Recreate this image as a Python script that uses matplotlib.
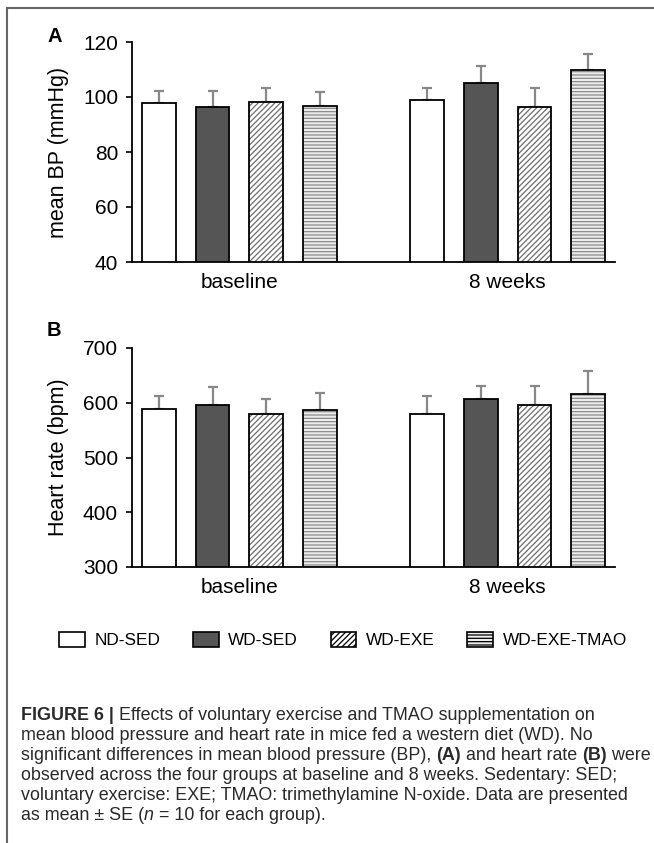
import matplotlib
matplotlib.use("Agg")
import matplotlib.pyplot as plt
from matplotlib.patches import Patch
from matplotlib.lines import Line2D
import numpy as np

plt.rcParams['font.family'] = ['Liberation Sans', 'DejaVu Sans']
plt.rcParams['hatch.linewidth'] = 0.9

groups = ['ND-SED', 'WD-SED', 'WD-EXE', 'WD-EXE-TMAO']
timepoints = ['baseline', '8 weeks']

bp_mean = [[97.7, 96.3, 98.2, 96.8], [98.8, 105.0, 96.3, 109.8]]
bp_err = [[4.5, 5.9, 4.9, 4.9], [4.6, 6.3, 6.8, 5.8]]

hr_mean = [[588, 595, 580, 586], [580, 607, 595, 616]]
hr_err = [[24, 34, 27, 32], [32, 24, 36, 42]]

faces = ['white', '#555555', 'white', '#ececec']
hatches = [None, None, '//////', '-----']
hatch_cols = ['black', 'black', '#6e6e6e', '#8a8a8a']

fig = plt.figure(figsize=(6.54, 8.43), dpi=100)
W, H = 654, 843


def px_axes(x0, y0, x1, y1):
    return fig.add_axes([x0 / W, 1 - y1 / H, (x1 - x0) / W, (y1 - y0) / H])


def draw_panel(ax, means, errs, ylim, yticks, ylabel):
    for t in range(2):
        for i in range(4):
            x = t * 5 + i
            ax.bar(x, means[t][i], width=0.63, bottom=0, color=faces[i],
                   edgecolor=hatch_cols[i], hatch=hatches[i], linewidth=0, zorder=2)
            ax.bar(x, means[t][i], width=0.63, color='none',
                   edgecolor='black', linewidth=1.3, zorder=3)
            ax.errorbar(x, means[t][i], yerr=[[0], [errs[t][i]]], fmt='none',
                        ecolor='#888888', elinewidth=1.6, capsize=3.5, capthick=1.6, zorder=1)
    ax.set_ylim(*ylim)
    ax.set_xlim(-0.5, 8.5)
    ax.set_yticks(yticks)
    ax.set_xticks([1.5, 6.5])
    ax.set_xticklabels(timepoints, fontsize=15)
    ax.tick_params(axis='x', length=0, pad=8)
    ax.tick_params(axis='y', length=4, width=1.2, labelsize=15, pad=6)
    for s in ['top', 'right']:
        ax.spines[s].set_visible(False)
    for s in ['left', 'bottom']:
        ax.spines[s].set_linewidth(1.3)
    ax.set_ylabel(ylabel, fontsize=15.5)
    ax.yaxis.set_label_coords(-0.13, 0.5)


axA = px_axes(132, 42, 615, 262)
draw_panel(axA, bp_mean, bp_err, (40, 120), [40, 60, 80, 100, 120], 'mean BP (mmHg)')
axB = px_axes(132, 348, 615, 567)
draw_panel(axB, hr_mean, hr_err, (300, 700), [300, 400, 500, 600, 700], 'Heart rate (bpm)')

fig.text(47 / W, 1 - 36 / H, 'A', fontsize=14.5, fontweight='bold', va='center')
fig.text(47 / W, 1 - 330 / H, 'B', fontsize=14.5, fontweight='bold', va='center')

handles = [Patch(facecolor=faces[i], edgecolor='black', hatch=hatches[i], linewidth=1.2)
           for i in range(4)]
fig.legend(handles, groups, loc='center', bbox_to_anchor=(343 / W, 1 - 640 / H), ncol=4,
           frameon=False, fontsize=12.4, handlelength=1.5, handleheight=0.95,
           handletextpad=0.55, columnspacing=1.9)

# frame lines
fig.add_artist(Line2D([7 / W, 7 / W], [0, 1 - 8 / H], color='#666666', lw=1.5))
fig.add_artist(Line2D([7 / W, 1], [1 - 8 / H, 1 - 8 / H], color='#666666', lw=1.5))

caption = [
    [('FIGURE 6 | ', 'bold', 'normal'),
     ('Effects of voluntary exercise and TMAO supplementation on', 'normal', 'normal')],
    [('mean blood pressure and heart rate in mice fed a western diet (WD). No', 'normal', 'normal')],
    [('significant differences in mean blood pressure (BP), ', 'normal', 'normal'),
     ('(A)', 'bold', 'normal'), (' and heart rate ', 'normal', 'normal'),
     ('(B)', 'bold', 'normal'), (' were', 'normal', 'normal')],
    [('observed across the four groups at baseline and 8 weeks. Sedentary: SED;', 'normal', 'normal')],
    [('voluntary exercise: EXE; TMAO: trimethylamine N-oxide. Data are presented', 'normal', 'normal')],
    [('as mean \u00b1 SE (', 'normal', 'normal'), ('n', 'normal', 'italic'),
     (' = 10 for each group).', 'normal', 'normal')],
]
line_y = [716, 736, 756, 775, 795, 815]

fig.canvas.draw()
rend = fig.canvas.get_renderer()
for segs, y in zip(caption, line_y):
    x = 21
    for txt, wt, st in segs:
        t = fig.text(x / W, 1 - y / H, txt, fontsize=12.85, fontweight=wt, fontstyle=st,
                     va='center', ha='left', color='#2a2a2a')
        bb = t.get_window_extent(renderer=rend)
        x += bb.width

fig.savefig('out.png', dpi=100)
